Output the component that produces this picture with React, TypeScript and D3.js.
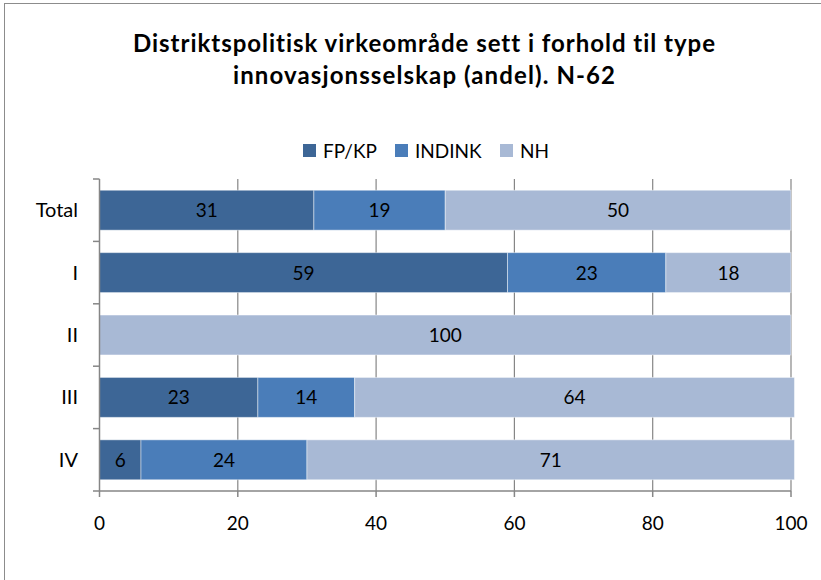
import React from "react";
import * as d3 from "d3";

const categories = ["Total", "I", "II", "III", "IV"];
const seriesNames = ["FP/KP", "INDINK", "NH"];
const fpkp = [31.0, 59.0, 0, 22.9, 6.0];
const indink = [19.0, 22.9, 0, 14.0, 24.0];
const nh = [50.0, 18.1, 100, 63.6, 70.5];
const xTicks = [0, 20, 40, 60, 80, 100];
const colors = ["#3D6696", "#4A7DB9", "#A8B9D5"];
const titleLines = [
  "Distriktspolitisk virkeområde sett i forhold til type",
  "innovasjonsselskap (andel). N-62",
];
const titleWidths = [582, 382];

const W = 821;
const H = 580;
const FONT = "Lato, 'Open Sans', sans-serif";

export default function App() {
  const x = d3.scaleLinear().domain([0, 100]).range([99.5, 791]);
  const y = d3.scaleBand().domain(categories).range([179, 491]).paddingInner(0.36).paddingOuter(0.18);
  const series = [fpkp, indink, nh];
  const rows = categories.map((c, i) => {
    let acc = 0;
    return series.map((s, k) => {
      const v = s[i];
      const seg = { c, k, v, x0: acc, x1: acc + v };
      acc += v;
      return seg;
    });
  });
  const bandStep = (491 - 179) / categories.length;
  const boundaries = d3.range(categories.length + 1).map((i) => 179 + i * bandStep);

  const legendX = [303, 395, 500];

  return (
    <svg width={W} height={H} style={{ position: "absolute", left: 0, top: 0, fontVariantLigatures: "none", fontFeatureSettings: "'liga' 0, 'clig' 0, 'dlig' 0" }}>
      <rect x={0} y={0} width={W} height={H} fill="#fff" />
      <rect x={4.5} y={3.5} width={W + 10} height={H + 10} fill="none" stroke="#8c8c8c" strokeWidth={1} />
      {titleLines.map((t, i) => (
        <text key={i} x={424} y={52 + i * 32} textAnchor="middle" fontFamily={FONT} fontWeight="bold" fontSize={24} fill="#000"
          textLength={titleWidths[i]} lengthAdjust="spacing">
          {t}
        </text>
      ))}
      {seriesNames.map((n, i) => (
        <g key={n}>
          <rect x={legendX[i]} y={144} width={13} height={13} fill={colors[i]} />
          <text x={legendX[i] + 20} y={158} fontFamily={FONT} fontSize={19} fill="#000">{n}</text>
        </g>
      ))}
      {xTicks.slice(1).map((t) => (
        <line key={t} x1={x(t)} x2={x(t)} y1={179} y2={491} stroke="#868686" strokeWidth={1.2} />
      ))}
      {rows.map((segs) =>
        segs.filter((s) => s.v > 0).map((s) => (
          <g key={s.c + s.k}>
            <rect x={x(s.x0)} y={y(s.c)!} width={x(s.x1) - x(s.x0)} height={y.bandwidth()} fill={colors[s.k]} stroke="rgba(255,255,255,0.45)" strokeWidth={1} />
            <text x={(x(s.x0) + x(s.x1)) / 2} y={y(s.c)! + y.bandwidth() / 2 + 7} textAnchor="middle" fontFamily={FONT} fontSize={19} fill="#000">
              {Math.round(s.v)}
            </text>
          </g>
        ))
      )}
      <line x1={99.5} x2={99.5} y1={179} y2={491} stroke="#868686" strokeWidth={1.5} />
      {boundaries.map((b, i) => (
        <line key={i} x1={93} x2={99.5} y1={b} y2={b} stroke="#868686" strokeWidth={1.5} />
      ))}
      <line x1={99.5} x2={791} y1={491} y2={491} stroke="#868686" strokeWidth={1.5} />
      {xTicks.map((t) => (
        <g key={t}>
          <line x1={x(t)} x2={x(t)} y1={491} y2={497} stroke="#868686" strokeWidth={1.5} />
          <text x={x(t)} y={530} textAnchor="middle" fontFamily={FONT} fontSize={19} fill="#000">{t}</text>
        </g>
      ))}
      {categories.map((c) => (
        <text key={c} x={78} y={y(c)! + y.bandwidth() / 2 + 7} textAnchor="end" fontFamily={FONT} fontSize={20} fill="#000">
          {c}
        </text>
      ))}
    </svg>
  );
}
